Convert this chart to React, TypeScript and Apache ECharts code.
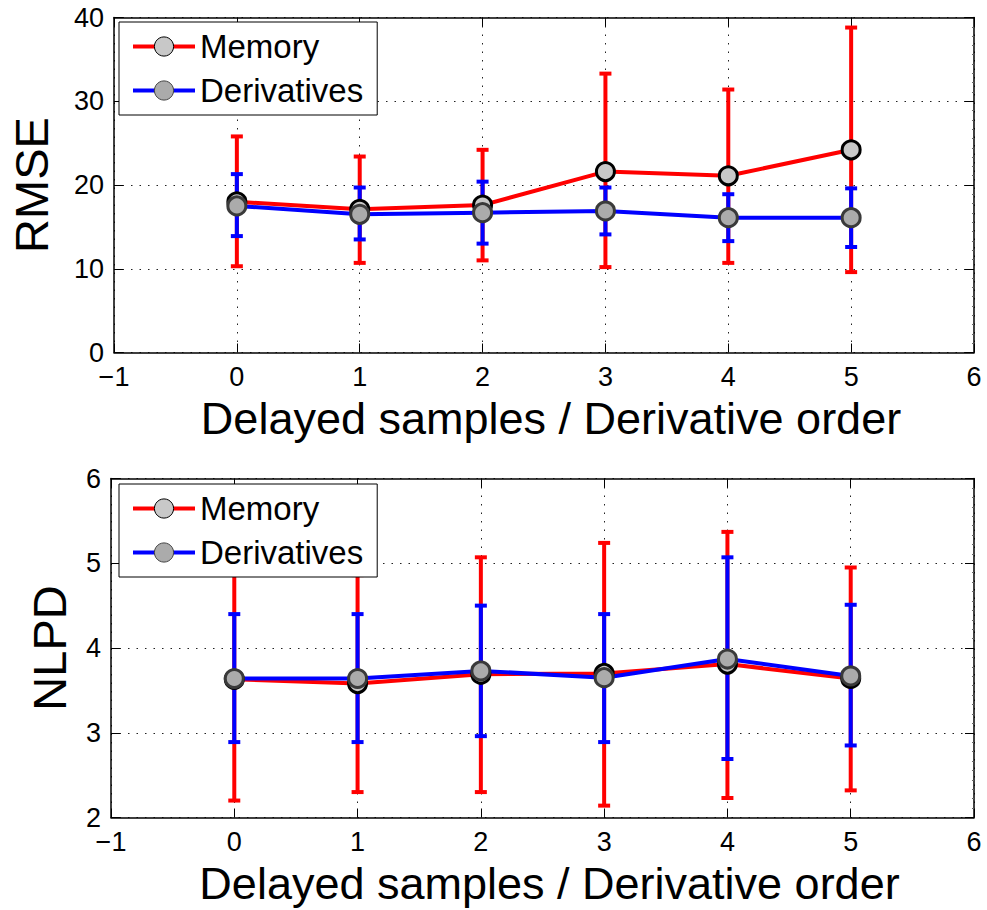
import React, { useEffect, useRef } from "react";
import * as echarts from "echarts";

const xs = [0, 1, 2, 3, 4, 5];

const rmseMemory = [18.0, 17.1, 17.6, 21.6, 21.1, 24.2];
const rmseMemoryLow = [10.3, 10.7, 11.0, 10.2, 10.7, 9.6];
const rmseMemoryHigh = [25.8, 23.4, 24.2, 33.3, 31.4, 38.8];
const rmseDeriv = [17.5, 16.5, 16.7, 16.9, 16.1, 16.1];
const rmseDerivLow = [13.9, 13.5, 13.0, 14.1, 13.3, 12.6];
const rmseDerivHigh = [21.3, 19.7, 20.4, 19.7, 18.9, 19.6];

const nlpdMemory = [3.63, 3.58, 3.69, 3.7, 3.81, 3.64];
const nlpdMemoryLow = [2.2, 2.3, 2.3, 2.14, 2.23, 2.32];
const nlpdMemoryHigh = [5.06, 4.86, 5.07, 5.24, 5.37, 4.95];
const nlpdDeriv = [3.64, 3.64, 3.73, 3.65, 3.87, 3.67];
const nlpdDerivLow = [2.89, 2.89, 2.96, 2.89, 2.69, 2.85];
const nlpdDerivHigh = [4.4, 4.4, 4.5, 4.4, 5.07, 4.51];

const xTitle = "Delayed samples / Derivative order";
const FONT = "Liberation Sans, Arial, Helvetica, sans-serif";

const RED = "#ff0000";
const BLUE = "#0000ff";

function errorSeries(name: string, color: string, lo: number[], hi: number[], axis: number) {
  return {
    type: "custom",
    name: name + " err",
    xAxisIndex: axis,
    yAxisIndex: axis,
    encode: { x: 0, y: [1, 2] },
    data: xs.map((x, i) => [x, lo[i], hi[i]]),
    silent: true,
    renderItem: (params: any, api: any) => {
      const x = api.value(0);
      const pLo = api.coord([x, api.value(1)]);
      const pHi = api.coord([x, api.value(2)]);
      const half = 6;
      const style = { stroke: color, lineWidth: 4, fill: null };
      return {
        type: "group",
        children: [
          { type: "line", shape: { x1: pLo[0], y1: pLo[1], x2: pHi[0], y2: pHi[1] }, style },
          { type: "line", shape: { x1: pHi[0] - half, y1: pHi[1], x2: pHi[0] + half, y2: pHi[1] }, style },
          { type: "line", shape: { x1: pLo[0] - half, y1: pLo[1], x2: pLo[0] + half, y2: pLo[1] }, style },
        ],
      };
    },
  };
}

function lineSeries(name: string, color: string, vals: number[], fill: string, border: string, axis: number) {
  return {
    type: "line",
    name,
    xAxisIndex: axis,
    yAxisIndex: axis,
    data: xs.map((x, i) => [x, vals[i]]),
    symbol: "circle",
    symbolSize: 18,
    showAllSymbol: true,
    lineStyle: { color, width: 4 },
    itemStyle: { color: fill, borderColor: border, borderWidth: 3 },
    emphasis: { disabled: true },
  };
}

function xAxisPair(grid: number) {
  const common = {
    type: "value",
    gridIndex: grid,
    min: -1,
    max: 6,
    interval: 1,
    axisLine: { show: true, onZero: false, lineStyle: { color: "#000", width: 1.5 } },
    axisTick: { show: true, inside: true, length: 9, lineStyle: { color: "#000", width: 1 } },
  };
  return [
    {
      ...common,
      position: "bottom",
      name: xTitle,
      nameLocation: "middle",
      nameGap: 49,
      nameTextStyle: { fontSize: 45, lineHeight: 34, fontFamily: FONT, color: "#000", padding: [0, 0, 0, 14] },
      axisLabel: {
        fontSize: 27,
        lineHeight: 26,
        fontFamily: FONT,
        color: "#000",
        margin: 11,
        formatter: (v: number) => String(v).replace("-", "\u2212"),
      },
      splitLine: { show: true, lineStyle: { color: "#222", width: 1, type: [1.5, 7] } },
    },
    {
      ...common,
      position: "top",
      axisLabel: { show: false },
      splitLine: { show: false },
    },
  ];
}

function yAxisPair(grid: number, name: string, min: number, max: number, interval: number, gap: number) {
  const common = {
    type: "value",
    gridIndex: grid,
    min,
    max,
    interval,
    axisLine: { show: true, onZero: false, lineStyle: { color: "#000", width: 1.5 } },
    axisTick: { show: true, inside: true, length: 9, lineStyle: { color: "#000", width: 1 } },
  };
  return [
    {
      ...common,
      position: "left",
      name,
      nameLocation: "middle",
      nameGap: gap,
      nameTextStyle: { fontSize: 47, fontFamily: FONT, color: "#000" },
      axisLabel: { fontSize: 27, lineHeight: 26, fontFamily: FONT, color: "#000", margin: 10 },
      splitLine: { show: true, lineStyle: { color: "#222", width: 1, type: [1.5, 7] } },
    },
    {
      ...common,
      position: "right",
      axisLabel: { show: false },
      splitLine: { show: false },
      minorTick: { show: true, splitNumber: 9, length: 2, lineStyle: { color: "#666" } },
    },
  ];
}

function legendAt(top: number) {
  return {
    orient: "vertical",
    left: 119,
    top,
    padding: [6, 14, 6, 12],
    itemGap: 7,
    itemWidth: 62,
    itemHeight: 24,
    backgroundColor: "#fff",
    borderColor: "#000",
    borderWidth: 1,
    selectedMode: false,
    textStyle: { fontSize: 33, fontFamily: FONT, color: "#000", lineHeight: 37 },
    itemStyle: { borderWidth: 1 },
    lineStyle: { width: 4 },
    data: [
      { name: "Memory", itemStyle: { borderColor: "#000", borderWidth: 1 } },
      { name: "Derivatives", itemStyle: { borderColor: "#444", borderWidth: 1 } },
    ],
  };
}

export default function App() {
  const ref = useRef<HTMLDivElement>(null);
  useEffect(() => {
    if (!ref.current) return;
    const chart = echarts.init(ref.current, null, { renderer: "svg" });
    const option = {
      animation: false,
      backgroundColor: "#fff",
      textStyle: { fontFamily: FONT },
      grid: [
        { left: 111, top: 17.5, width: 863, height: 335 },
        { left: 111, top: 478.5, width: 863, height: 339 },
      ],
      xAxis: [...xAxisPair(0), ...xAxisPair(1)],
      yAxis: [
        ...yAxisPair(0, "RMSE", 0, 40, 10, 59),
        ...yAxisPair(1, "NLPD", 2, 6, 1, 38),
      ],
      legend: [legendAt(22), legendAt(484)],
      series: [
        errorSeries("Memory", RED, rmseMemoryLow, rmseMemoryHigh, 0),
        lineSeries("Memory", RED, rmseMemory, "#c8c8c8", "#000", 0),
        errorSeries("Derivatives", BLUE, rmseDerivLow, rmseDerivHigh, 0),
        lineSeries("Derivatives", BLUE, rmseDeriv, "#ababab", "#3a3a3a", 0),
        errorSeries("Memory", RED, nlpdMemoryLow, nlpdMemoryHigh, 2),
        lineSeries("Memory", RED, nlpdMemory, "#c8c8c8", "#000", 2),
        errorSeries("Derivatives", BLUE, nlpdDerivLow, nlpdDerivHigh, 2),
        lineSeries("Derivatives", BLUE, nlpdDeriv, "#ababab", "#3a3a3a", 2),
      ],
    };
    chart.setOption(option as any);
    return () => chart.dispose();
  }, []);
  return (
    <div
      ref={ref}
      style={{ position: "absolute", left: 0, top: 0, width: 987, height: 910, background: "#fff" }}
    />
  );
}
